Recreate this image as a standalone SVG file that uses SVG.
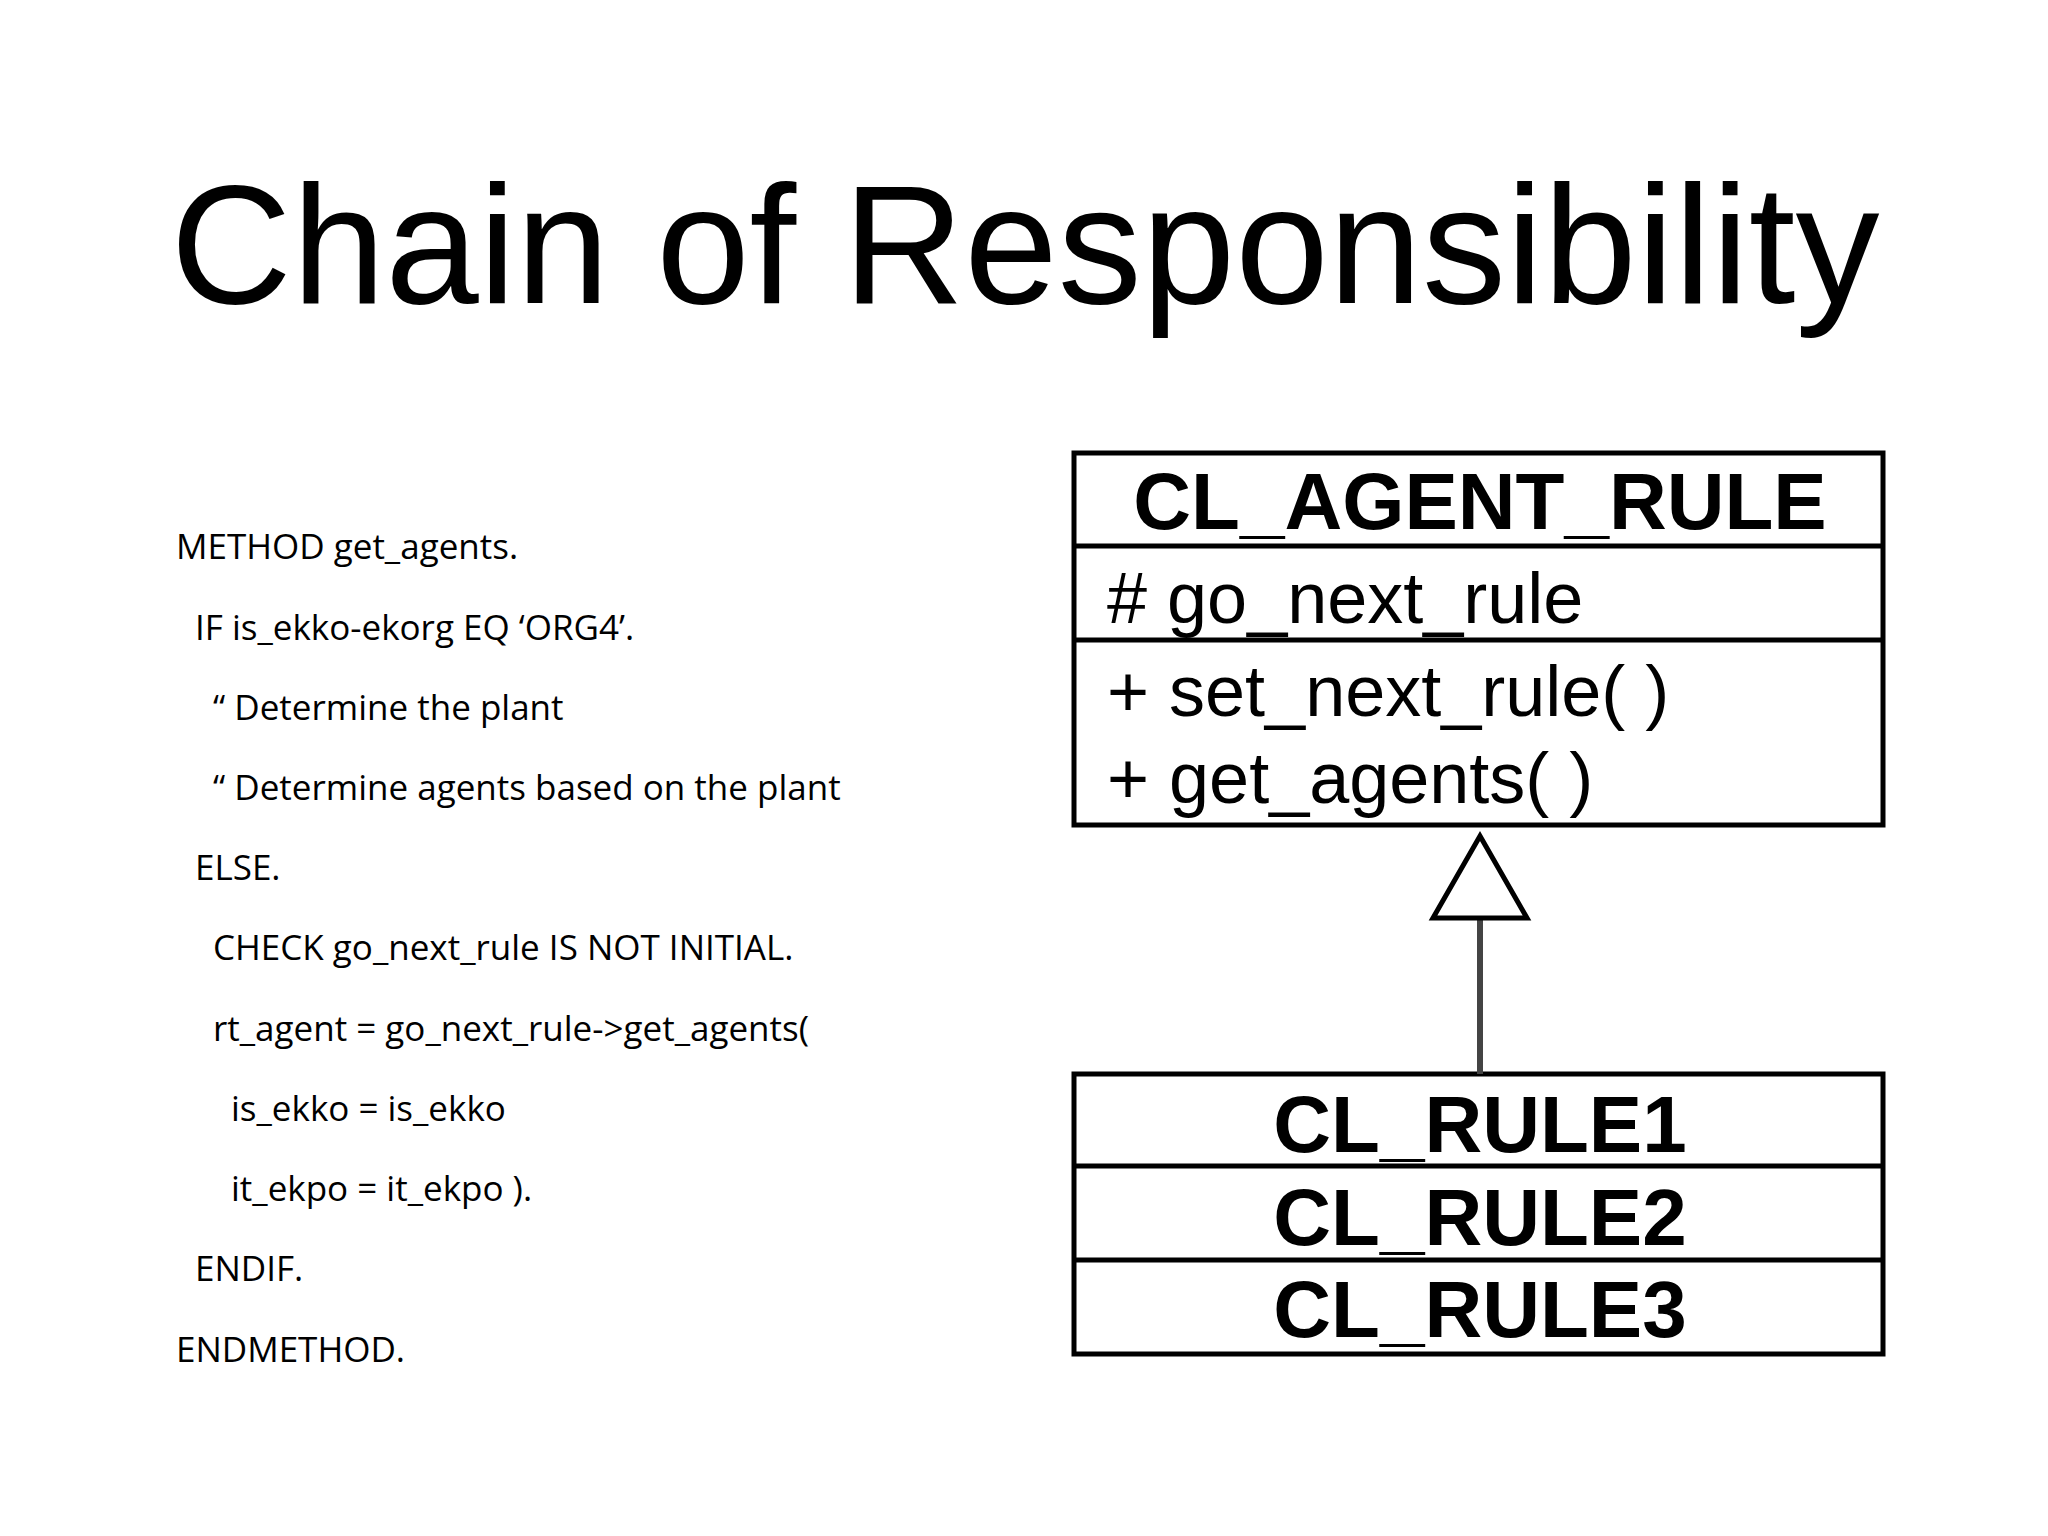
<svg xmlns="http://www.w3.org/2000/svg" width="2048" height="1536" viewBox="0 0 2048 1536">
<style>
.code{font-family:"Open Sans","Liberation Sans",sans-serif;font-size:35px;fill:#000}
.box{fill:#fff;stroke:#000;stroke-width:5}
.hd{font-family:"Liberation Sans",Arial,sans-serif;font-weight:bold;font-size:80px;fill:#000;text-anchor:middle}
.mb{font-family:"Liberation Sans",Arial,sans-serif;font-size:72px;fill:#000}
</style>
<rect width="2048" height="1536" fill="#fff"/>
<text x="1025" y="303" font-family="Liberation Sans,Arial,sans-serif" font-size="168" text-anchor="middle">Chain of Responsibility</text>
<g id="code">
<text class="code" x="176" y="559">METHOD get_agents.</text>
<text class="code" x="195" y="640">IF is_ekko-ekorg EQ ‘ORG4’.</text>
<text class="code" x="213" y="720">“ Determine the plant</text>
<text class="code" x="213" y="800">“ Determine agents based on the plant</text>
<text class="code" x="195" y="880">ELSE.</text>
<text class="code" x="213" y="960">CHECK go_next_rule IS NOT INITIAL.</text>
<text class="code" x="213" y="1041">rt_agent = go_next_rule-&gt;get_agents(</text>
<text class="code" x="231" y="1121">is_ekko = is_ekko</text>
<text class="code" x="231" y="1201">it_ekpo = it_ekpo ).</text>
<text class="code" x="195" y="1281">ENDIF.</text>
<text class="code" x="176" y="1362">ENDMETHOD.</text>
</g>
<g id="cl_agent_rule">
<rect class="box" x="1074" y="453" width="809" height="372"/>
<line class="box" x1="1074" y1="546" x2="1883" y2="546"/>
<line class="box" x1="1074" y1="640" x2="1883" y2="640"/>
<text class="hd" x="1480" y="529">CL_AGENT_RULE</text>
<text class="mb" x="1107" y="623"># go_next_rule</text>
<text class="mb" x="1107" y="716">+ set_next_rule( )</text>
<text class="mb" x="1107" y="803">+ get_agents( )</text>
</g>
<g id="rules">
<rect class="box" x="1074" y="1074" width="809" height="280"/>
<line class="box" x1="1074" y1="1166" x2="1883" y2="1166"/>
<line class="box" x1="1074" y1="1260" x2="1883" y2="1260"/>
<text class="hd" x="1480" y="1152">CL_RULE1</text>
<text class="hd" x="1480" y="1245">CL_RULE2</text>
<text class="hd" x="1480" y="1337">CL_RULE3</text>
</g>
<g id="connectors">
<line x1="1480" y1="918" x2="1480" y2="1074" stroke="#444" stroke-width="6"/>
<polygon points="1480,836 1527,918 1433,918" fill="#fff" stroke="#000" stroke-width="5"/>
</g>
</svg>
